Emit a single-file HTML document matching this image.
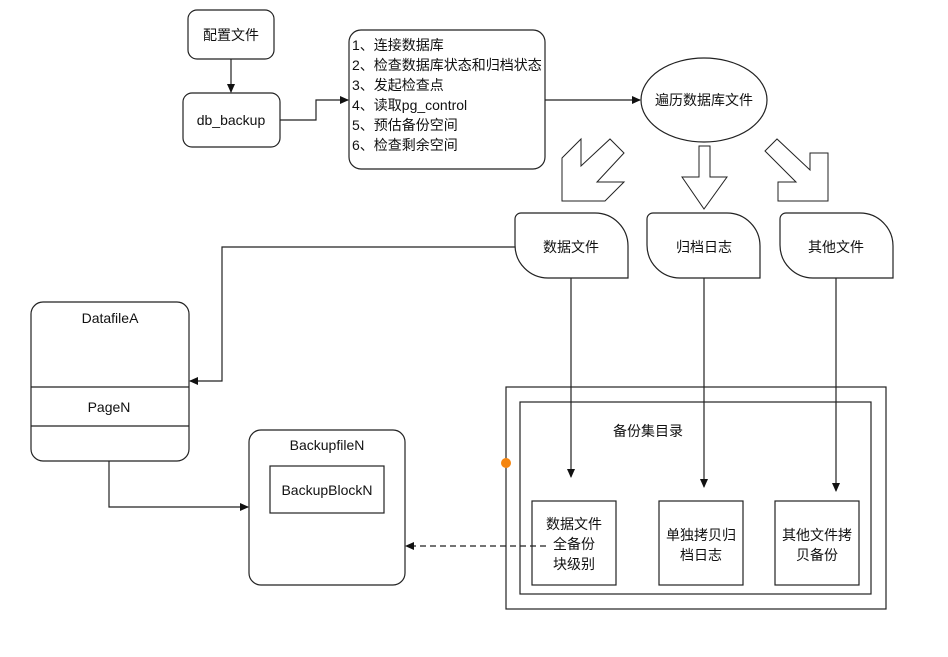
<!DOCTYPE html>
<html><head><meta charset="utf-8"><style>
body{margin:0;background:#fff}
svg{display:block}
text{font-family:"Liberation Sans","Noto Sans CJK SC",sans-serif;font-size:14px;fill:#111}
</style></head><body>
<svg width="948" height="657" viewBox="0 0 948 657" xmlns="http://www.w3.org/2000/svg">
<defs><marker id="a" markerWidth="9" markerHeight="9" refX="8" refY="4.5" orient="auto" markerUnits="userSpaceOnUse"><path d="M0,0.5 L9,4.5 L0,8.5z" fill="#111"/></marker></defs>
<g fill="none" stroke="#222" stroke-width="1.2">
<rect x="188" y="10" width="86" height="49" rx="9"/>
<rect x="183" y="93" width="97" height="54" rx="9"/>
<rect x="349" y="30" width="196" height="139" rx="12"/>
<ellipse cx="704" cy="100" rx="63" ry="42"/>
<line x1="231" y1="59" x2="231" y2="92" marker-end="url(#a)"/>
<polyline points="280,120 316,120 316,100 348,100" marker-end="url(#a)"/>
<line x1="545" y1="100" x2="640" y2="100" marker-end="url(#a)"/>
<polygon points="562,158 581,139 581,166 610,139 624,153 597,182 624,182 605,201 562,201" stroke-width="1"/>
<polygon points="699,146 710,146 710,177 727,177 704,209 682,177 699,177" stroke-width="1"/>
<polygon points="765,151 777,139 810,170 810,153 828,153 828,201 778,201 778,182 796,182" stroke-width="1"/>
<path d="M521,213 H595 A33,33 0 0 1 628,246 V278 H548 A33,33 0 0 1 515,245 V219 A6,6 0 0 1 521,213Z"/>
<path d="M653,213 H727 A33,33 0 0 1 760,246 V278 H680 A33,33 0 0 1 647,245 V219 A6,6 0 0 1 653,213Z"/>
<path d="M786,213 H860 A33,33 0 0 1 893,246 V278 H813 A33,33 0 0 1 780,245 V219 A6,6 0 0 1 786,213Z"/>
<polyline points="515,247 222,247 222,381 190,381" marker-end="url(#a)"/>
<rect x="31" y="302" width="158" height="159" rx="12"/>
<line x1="31" y1="387" x2="189" y2="387"/>
<line x1="31" y1="426" x2="189" y2="426"/>
<rect x="249" y="430" width="156" height="155" rx="12"/>
<rect x="270" y="466" width="114" height="47"/>
<polyline points="109,461 109,507 248,507" marker-end="url(#a)"/>
<rect x="506" y="387" width="380" height="222"/>
<rect x="520" y="402" width="351" height="192"/>
<rect x="532" y="501" width="84" height="84"/>
<rect x="659" y="501" width="84" height="84"/>
<rect x="775" y="501" width="84" height="84"/>
<line x1="571" y1="278" x2="571" y2="477" marker-end="url(#a)"/>
<line x1="704" y1="278" x2="704" y2="487" marker-end="url(#a)"/>
<line x1="836" y1="278" x2="836" y2="491" marker-end="url(#a)"/>
<line x1="546" y1="546" x2="406" y2="546" stroke-dasharray="6,4" marker-end="url(#a)"/>
</g>
<circle cx="506" cy="463" r="5" fill="#f5850f"/>
<g text-anchor="middle">
<text x="231" y="40">配置文件</text>
<text x="231" y="125">db_backup</text>
<text x="704" y="105">遍历数据库文件</text>
<text x="571" y="252">数据文件</text>
<text x="704" y="252">归档日志</text>
<text x="836" y="252">其他文件</text>
<text x="110" y="323">DatafileA</text>
<text x="109" y="412">PageN</text>
<text x="327" y="450">BackupfileN</text>
<text x="327" y="495">BackupBlockN</text>
<text x="648" y="436">备份集目录</text>
<text x="574" y="529">数据文件</text>
<text x="574" y="549">全备份</text>
<text x="574" y="569">块级别</text>
<text x="701" y="540">单独拷贝归</text>
<text x="701" y="560">档日志</text>
<text x="817" y="540">其他文件拷</text>
<text x="817" y="560">贝备份</text>
</g>
<g>
<text x="352" y="50">1、连接数据库</text>
<text x="352" y="70">2、检查数据库状态和归档状态</text>
<text x="352" y="90">3、发起检查点</text>
<text x="352" y="110">4、读取pg_control</text>
<text x="352" y="130">5、预估备份空间</text>
<text x="352" y="150">6、检查剩余空间</text>
</g>
</svg>
</body></html>
